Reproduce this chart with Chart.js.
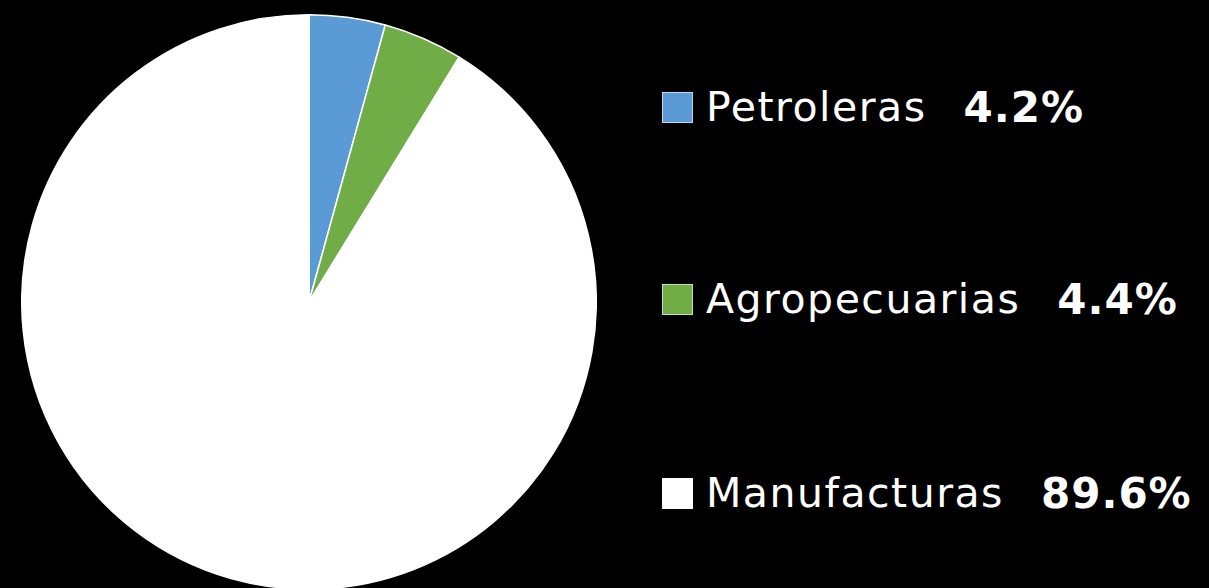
<!DOCTYPE html>
<html>
<head>
<meta charset="utf-8">
<script src="https://cdn.jsdelivr.net/npm/chart.js@4"></script>
<style>
    html, body { margin: 0; padding: 0; background: #000; }
    body { width: 1209px; height: 588px; position: relative; overflow: hidden; font-family: "DejaVu Sans", sans-serif; }
    #pieBox { position: absolute; left: 21px; top: 14px; width: 576px; height: 576px; }
    .leyenda { position: absolute; left: 662px; display: flex; align-items: center; color: #fff; font-size: 41px; white-space: nowrap; }
    .leyenda .cuadro { width: 31px; height: 31px; margin-right: 13px; box-sizing: border-box; border: 1px solid rgba(255,255,255,0.6); }
    .leyenda .nombre { letter-spacing: 1.5px; }
    .leyenda .pct { font-weight: bold; font-size: 42px; letter-spacing: 1px; margin-left: 37px; }
</style>
</head>
<body>
<div id="pieBox"><canvas id="pieChart"></canvas></div>
<div id="legendBox"></div>

<script>
// datos del gráfico
const categorias = ["Petroleras", "Agropecuarias", "Manufacturas"];
const valores = [4.2, 4.4, 89.6];
const colores = ["#5B9BD5", "#70AD47", "#FFFFFF"];
const filasLeyenda = [107, 299, 493]; // centro vertical de cada fila

document.addEventListener("DOMContentLoaded", () => {
    initPie();
    renderLeyenda();
});

function initPie() {
    const ctx = document.getElementById("pieChart").getContext("2d");
    new Chart(ctx, {
        type: "pie",
        data: {
            labels: categorias,
            datasets: [{
                data: valores,
                backgroundColor: colores,
                borderColor: "#FFFFFF",
                borderWidth: 1.5
            }]
        },
        options: {
            responsive: true,
            maintainAspectRatio: false,
            animation: false,
            layout: { padding: 0 },
            plugins: {
                legend: { display: false },
                tooltip: { enabled: false }
            }
        }
    });
}

// Leyenda HTML con el porcentaje en negrita
function renderLeyenda() {
    const box = document.getElementById("legendBox");
    categorias.forEach((cat, i) => {
        const fila = document.createElement("div");
        fila.className = "leyenda";
        fila.innerHTML = `<span class="cuadro" style="background:${colores[i]}"></span><span class="nombre">${cat}</span><span class="pct">${valores[i].toFixed(1)}%</span>`;
        box.appendChild(fila);
        fila.style.top = (filasLeyenda[i] - fila.offsetHeight / 2) + "px";
    });
}
</script>
</body>
</html>
